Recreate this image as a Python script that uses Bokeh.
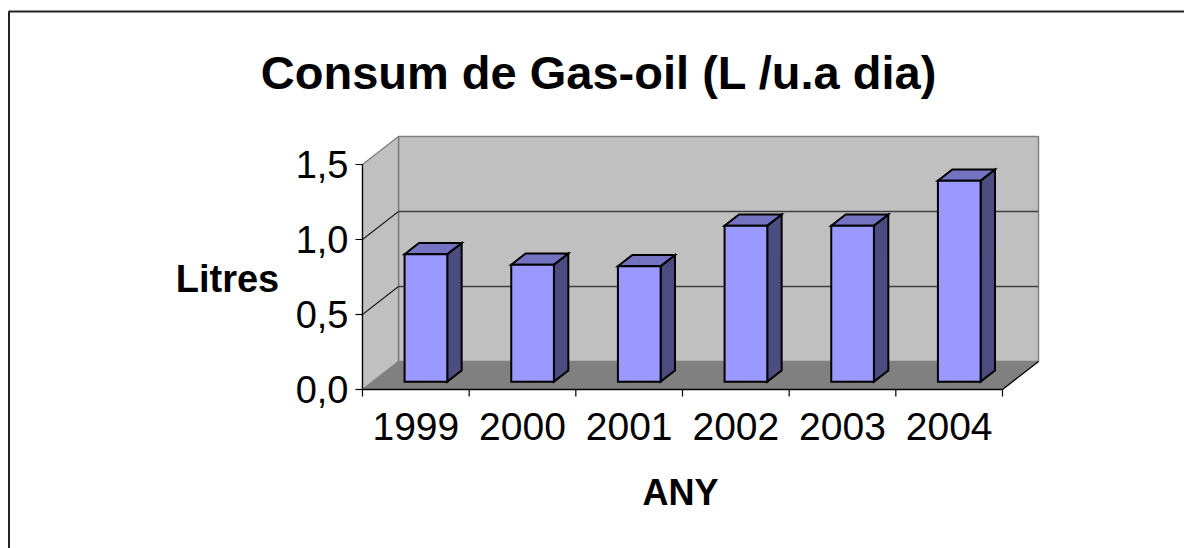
from bokeh.plotting import figure
from bokeh.models import Range1d
from bokeh.core.properties import value
from bokeh.embed import file_html
from bokeh.resources import INLINE

# ---- data ----
years = ["1999", "2000", "2001", "2002", "2003", "2004"]
litres = [0.85, 0.78, 0.77, 1.04, 1.04, 1.34]
y_ticks = [0.0, 0.5, 1.0, 1.5]
y_tick_labels = ["0,0", "0,5", "1,0", "1,5"]
title_text = "Consum  de Gas-oil (L /u.a dia)"
y_title = "Litres"
x_title = "ANY"

# ---- geometry (pixel layout -> data units) ----
PX_U = 640 / 6.0      # pixels per category unit
PX_V = 150.0          # pixels per litre
X0, Y0 = 362, 389     # image pixel of origin (front)
W, H = 1184, 548
OFF = 0               # canvas offset inside the screenshot


def X(px):
    return (px - X0) / PX_U


def Y(py):
    return (Y0 - py) / PX_V


DXU = 36 / PX_U   # depth offset in x units
DYV = 28 / PX_V   # depth offset in y units
YMAX = y_ticks[-1]
N = len(years)


def pt(u, v, f):
    return u + f * DXU, v + f * DYV


def poly(points):
    xs = [pt(*q)[0] for q in points]
    ys = [pt(*q)[1] for q in points]
    return xs, ys


p = figure(width=W, height=H,
           x_range=Range1d(X(OFF), X(OFF + W)), y_range=Range1d(Y(OFF + H), Y(OFF)),
           output_backend="svg", toolbar_location=None,
           x_axis_location=None, y_axis_location=None, min_border=0)
p.grid.visible = False
p.outline_line_color = None
p.background_fill_color = "white"
p.border_fill_color = "white"

# walls
walls = [
    [(0, 0, 1), (N, 0, 1), (N, YMAX, 1), (0, YMAX, 1)],     # back wall
    [(0, 0, 0), (0, 0, 1), (0, YMAX, 1), (0, YMAX, 0)],     # side wall
]
wx, wy = zip(*[poly(w) for w in walls])
p.patches(list(wx), list(wy), fill_color="#C0C0C0", line_color="#808080", line_width=1.5)

# gridlines
for t in y_ticks[1:-1]:
    xs, ys = poly([(0, t, 1), (N, t, 1)])
    p.line(xs, ys, line_color="#404040", line_width=1.3)
    xs, ys = poly([(0, t, 0), (0, t, 1)])
    p.line(xs, ys, line_color="#202020", line_width=1.2)

# floor
fx, fy = poly([(0, 0, 0), (N, 0, 0), (N, 0, 1), (0, 0, 1)])
p.patch(fx, fy, fill_color="#808080", line_color=None)
xs, ys = poly([(N, 0, 0), (N, 0, 1)])
p.line(xs, ys, line_color="black", line_width=1.3)

# bars
f0, f1 = 0.28, 0.68
bw = 0.4
fronts_x, fronts_y, tops_x, tops_y, sides_x, sides_y = [], [], [], [], [], []
for i, h in enumerate(litres):
    u0 = i + 0.5 - bw / 2
    u1 = i + 0.5 + bw / 2
    a, b = poly([(u0, 0, f0), (u1, 0, f0), (u1, h, f0), (u0, h, f0)])
    fronts_x.append(a); fronts_y.append(b)
    a, b = poly([(u0, h, f0), (u1, h, f0), (u1, h, f1), (u0, h, f1)])
    tops_x.append(a); tops_y.append(b)
    a, b = poly([(u1, 0, f0), (u1, 0, f1), (u1, h, f1), (u1, h, f0)])
    sides_x.append(a); sides_y.append(b)
p.patches(sides_x, sides_y, fill_color="#4C4C80", line_color="black", line_width=2, line_join="miter")
p.patches(tops_x, tops_y, fill_color="#7373C2", line_color="black", line_width=2, line_join="miter")
p.patches(fronts_x, fronts_y, fill_color="#9999FF", line_color="black", line_width=2, line_join="miter")

# axes
tick = 7
p.line([0, 0], [0, YMAX], line_color="black", line_width=1.2)
p.segment(x0=[0] * len(y_ticks), y0=y_ticks, x1=[-tick / PX_U] * len(y_ticks), y1=y_ticks,
          line_color="black", line_width=1.2)
p.line([0, N], [0, 0], line_color="black", line_width=1.3)
xt = list(range(N + 1))
p.segment(x0=xt, y0=[0] * len(xt), x1=xt, y1=[-tick / PX_V] * len(xt),
          line_color="black", line_width=1.2)

font = value("Liberation Sans")
p.text(x=[X(348)] * len(y_ticks), y=y_ticks, text=y_tick_labels, text_font=font,
       text_font_size="38px", text_align="right", text_baseline="middle", text_color="black")
p.text(x=[i + 0.5 for i in range(N)], y=[Y(426)] * N, text=years, text_font=font,
       text_font_size="39px", text_align="center", text_baseline="middle", text_color="black")

p.text(x=[X(605)], y=[Y(72)], text=[title_text], text_font=font, text_font_size="47px",
       text_font_style="bold", text_align="center", text_baseline="alphabetic", text_color="black")
p.text(x=[X(227)], y=[Y(278)], text=[y_title], text_font=font, text_font_size="38px",
       text_font_style="bold", text_align="center", text_baseline="middle", text_color="black")
p.text(x=[X(680)], y=[Y(492)], text=[x_title], text_font=font, text_font_size="36px",
       text_font_style="bold", text_align="center", text_baseline="middle", text_color="black")

# chart-area border (left and top edges visible)
p.line([X(8.5), X(8.5)], [Y(548), Y(11)], line_color="#222222", line_width=2)
p.line([X(8), X(1184)], [Y(11), Y(11)], line_color="#222222", line_width=2)

open("out.html", "w").write(file_html(p, INLINE))
